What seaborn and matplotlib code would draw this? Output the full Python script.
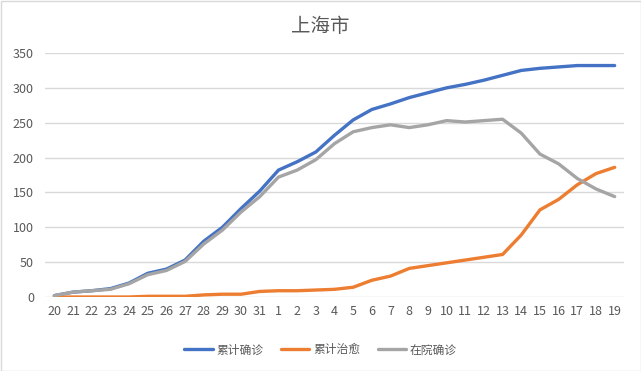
import matplotlib
matplotlib.use("Agg")
import matplotlib.pyplot as plt
import seaborn as sns
import pandas as pd
from matplotlib.patches import Rectangle
from matplotlib.lines import Line2D

dates = ['20', '21', '22', '23', '24', '25', '26', '27', '28', '29', '30', '31',
         '1', '2', '3', '4', '5', '6', '7', '8', '9', '10', '11', '12', '13',
         '14', '15', '16', '17', '18', '19']
confirmed = [2, 7, 9, 12, 20, 34, 40, 53, 80, 100, 127, 152,
             182, 194, 208, 232, 254, 269, 277, 286, 293, 300, 305, 311, 318,
             325, 328, 330, 332, 332, 332]
recovered = [0, 0, 0, 0, 0, 1, 1, 1, 3, 4, 4, 8,
             9, 9, 10, 11, 14, 24, 30, 41, 45, 49, 53, 57, 61,
             89, 125, 140, 161, 177, 186]
hospital = [2, 7, 9, 11, 19, 32, 38, 51, 76, 96, 122, 144,
            172, 182, 197, 220, 237, 243, 247, 243, 247, 253, 251, 253, 255,
            235, 205, 191, 170, 155, 144]
series_names = ['累计确诊', '累计治愈', '在院确诊']
colors = ['#4472C4', '#ED7D31', '#A5A5A5']
title = '上海市'

sns.set_style("white")
plt.rcParams['font.family'] = ['Noto Sans CJK SC', 'DejaVu Sans']

rows = []
for name, vals in zip(series_names, [confirmed, recovered, hospital]):
    for i, v in enumerate(vals):
        rows.append({'idx': i, 'value': v, 'series': name})
df = pd.DataFrame(rows)

fig = plt.figure(figsize=(6.41, 3.71), dpi=100)
ax = fig.add_axes([45/641, (371-297)/371, (624-45)/641, (297-53)/371])

sns.lineplot(data=df, x='idx', y='value', hue='series', hue_order=series_names,
             palette=colors, linewidth=2.4, ax=ax, legend=False)

ax.set_xlim(-0.5, len(dates) - 0.5)
ax.set_ylim(0, 350)
ax.set_yticks(range(0, 351, 50))
ax.set_xticks(range(len(dates)))
ax.set_xticklabels(dates)
ax.set_xlabel('')
ax.set_ylabel('')
ax.grid(axis='y', color='#D9D9D9', linewidth=1)
ax.grid(axis='x', visible=False)
ax.set_axisbelow(True)
for s in ax.spines.values():
    s.set_visible(False)
ax.tick_params(axis='both', length=0, labelsize=9, labelcolor='#595959')
ax.tick_params(axis='y', pad=8)
ax.tick_params(axis='x', pad=6)

fig.text(0.5, (371-26)/371, title, ha='center', va='center', fontsize=14, color='#595959')

handles = [Line2D([0], [0], color=c, linewidth=2.4) for c in colors]
fig.legend(handles, series_names, loc='center', bbox_to_anchor=(0.5, (371-350)/371),
           ncol=3, frameon=False, fontsize=8.5, labelcolor='#595959',
           handlelength=2.4, columnspacing=1.5, handletextpad=0.3)

fig.patches.append(Rectangle((0.5/641, 0.5/371), 1 - 1/641, 1 - 1/371, transform=fig.transFigure,
                             fill=False, edgecolor='#D9D9D9', linewidth=1))

fig.savefig('out.png', dpi=100)
